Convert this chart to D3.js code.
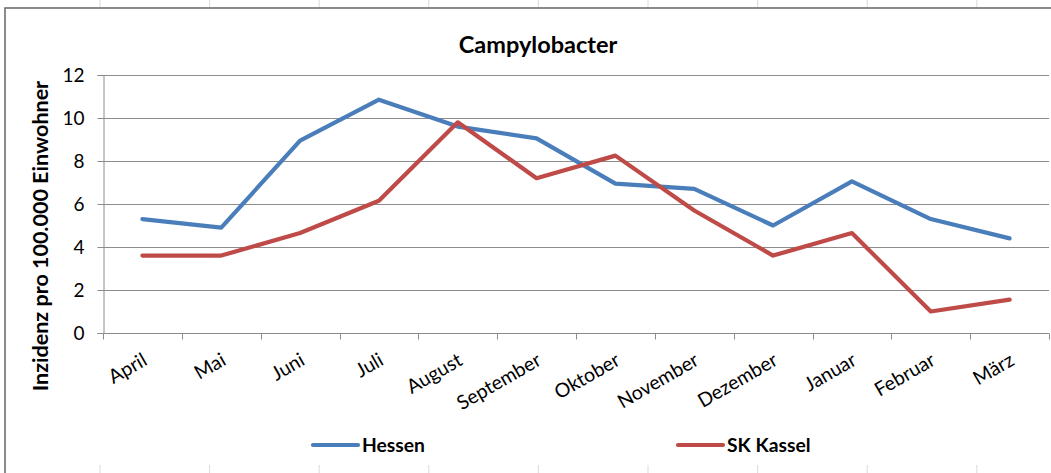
<!DOCTYPE html>
<html>
<head>
<meta charset="utf-8">
<script src="https://cdn.jsdelivr.net/npm/d3@7"></script>
<style>
  body { margin: 0; background: #fff; }
  svg { display: block; font-family: Lato, "Open Sans", sans-serif; }
</style>
</head>
<body>
<div id="chart"></div>
<script>
// Data
const months = ["April", "Mai", "Juni", "Juli", "August", "September", "Oktober",
  "November", "Dezember", "Januar", "Februar", "März"];
const hessen = [5.3, 4.9, 8.95, 10.85, 9.6, 9.05, 6.95, 6.7, 5.0, 7.05, 5.3, 4.4];
const kassel = [3.6, 3.6, 4.65, 6.15, 9.8, 7.2, 8.25, 5.7, 3.6, 4.65, 1.0, 1.55];
const yTicks = [0, 2, 4, 6, 8, 10, 12];
const seriesNames = ["Hessen", "SK Kassel"];
const seriesColors = ["#4a7ebb", "#be4b48"];

const width = 1051, height = 473;
const margin = { left: 103, right: 2, top: 75, bottom: 140 };

const svg = d3.select("#chart").append("svg")
  .attr("width", width)
  .attr("height", height);

// faint spreadsheet cell lines peeking out above and below the chart
const cellX = d3.range(9).map(i => 100 + i * 109.6);
svg.selectAll(".cell-top").data(cellX).enter().append("line")
  .attr("x1", d => d).attr("x2", d => d)
  .attr("y1", 0).attr("y2", 8)
  .attr("stroke", "#dadada");
svg.selectAll(".cell-bot").data(cellX).enter().append("line")
  .attr("x1", d => d).attr("x2", d => d)
  .attr("y1", 465).attr("y2", height)
  .attr("stroke", "#dadada");

// chart frame (right and bottom edges fall outside the picture)
svg.append("rect")
  .attr("x", 5).attr("y", 8)
  .attr("width", 1200).attr("height", 600)
  .attr("fill", "none")
  .attr("stroke", "#6e6e6e")
  .attr("stroke-width", 1.6);

const x = d3.scaleBand()
  .domain(months)
  .range([margin.left, width - margin.right]);

const y = d3.scaleLinear()
  .domain([0, 12])
  .range([height - margin.bottom, margin.top]);

// grid lines
svg.append("g")
  .selectAll("line")
  .data(yTicks.filter(d => d > 0))
  .enter().append("line")
  .attr("x1", margin.left).attr("x2", width - margin.right)
  .attr("y1", d => Math.round(y(d)) + 0.5).attr("y2", d => Math.round(y(d)) + 0.5)
  .attr("stroke", "#8c8c8c");

// y axis
const yAxis = svg.append("g")
  .attr("transform", `translate(${margin.left + 0.5},0)`)
  .call(d3.axisLeft(y).tickValues(yTicks).tickSize(6).tickPadding(13));
yAxis.select(".domain").attr("stroke", "#8c8c8c");
yAxis.selectAll(".tick line").attr("stroke", "#8c8c8c");
yAxis.selectAll(".tick text")
  .attr("font-size", 19)
  .attr("fill", "#000")
  .attr("font-family", "Lato, sans-serif");

// x axis: ticks at band boundaries
const xAxisG = svg.append("g")
  .attr("transform", `translate(0,${Math.round(y(0)) + 0.5})`);
xAxisG.append("line")
  .attr("x1", margin.left).attr("x2", width - margin.right)
  .attr("stroke", "#8c8c8c");
const bounds = months.map(m => x(m)).concat([x.range()[1]]);
xAxisG.selectAll(".xt").data(bounds).enter().append("line")
  .attr("x1", d => Math.round(d) + 0.5).attr("x2", d => Math.round(d) + 0.5)
  .attr("y1", 0).attr("y2", 6)
  .attr("stroke", "#8c8c8c");

svg.append("g").selectAll("text")
  .data(months)
  .enter().append("text")
  .attr("transform", d => `translate(${x(d) + x.bandwidth() / 2 + 6},364) rotate(-30)`)
  .attr("text-anchor", "end")
  .attr("font-size", 19.5)
  .attr("fill", "#000")
  .text(d => d);

// lines
const line = d3.line()
  .x((d, i) => x(months[i]) + x.bandwidth() / 2)
  .y(d => y(d));

[hessen, kassel].forEach((vals, i) => {
  svg.append("path")
    .datum(vals)
    .attr("d", line)
    .attr("fill", "none")
    .attr("stroke", seriesColors[i])
    .attr("stroke-width", 4.2)
    .attr("stroke-linejoin", "round")
    .attr("stroke-linecap", "round");
});

// title
svg.append("text")
  .attr("x", 538).attr("y", 53)
  .attr("text-anchor", "middle")
  .attr("font-size", 23.5)
  .attr("font-weight", "bold")
  .text("Campylobacter");

// y axis title
svg.append("text")
  .attr("transform", "translate(48,236) rotate(-90)")
  .attr("text-anchor", "middle")
  .attr("font-size", 21.5)
  .attr("font-weight", "bold")
  .text("Inzidenz pro 100.000 Einwohner");

// legend
const legendX = [313, 678];
seriesNames.forEach((name, i) => {
  const g = svg.append("g").attr("transform", `translate(${legendX[i]},445)`);
  g.append("line")
    .attr("x1", 0).attr("x2", 45)
    .attr("stroke", seriesColors[i])
    .attr("stroke-width", 4.2)
    .attr("stroke-linecap", "round");
  g.append("text")
    .attr("x", 49).attr("y", 6.5)
    .attr("font-size", 19.3)
    .attr("font-weight", "bold")
    .text(name);
});
</script>
</body>
</html>
